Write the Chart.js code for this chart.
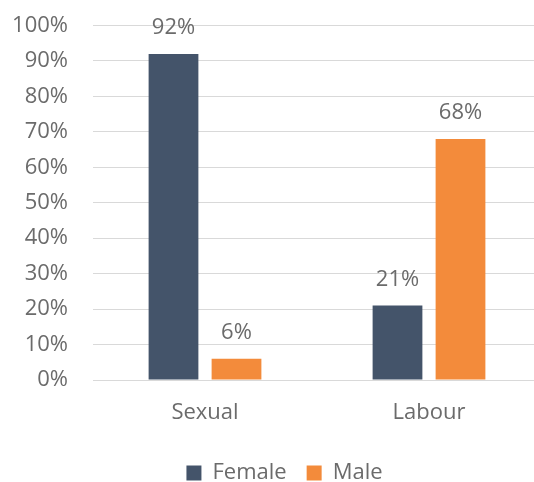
<!DOCTYPE html>
<html>
<head>
<meta charset="utf-8">
<script src="https://cdn.jsdelivr.net/npm/chart.js@4/dist/chart.umd.min.js"></script>
<style>
  html, body { margin: 0; padding: 0; overflow: hidden; background: #fff; }
  #wrap { position: absolute; left: 0; top: 0; width: 548px; height: 482px; }
</style>
</head>
<body>
<div id="wrap"><canvas id="c"></canvas></div>
<script>
const categories = ["Sexual", "Labour"];
const femaleValues = [92, 21];
const maleValues = [6, 68];
const seriesNames = ["Female", "Male"];
const yTicks = [0, 10, 20, 30, 40, 50, 60, 70, 80, 90, 100];

const FONT = "'Open Sans', 'Liberation Sans', sans-serif";
const TEXT = "#6b6b6b";

const valueLabels = {
  id: "valueLabels",
  afterDatasetsDraw(chart) {
    const ctx = chart.ctx;
    ctx.save();
    ctx.font = "22px " + FONT;
    ctx.fillStyle = TEXT;
    ctx.textAlign = "center";
    ctx.textBaseline = "bottom";
    chart.data.datasets.forEach((ds, i) => {
      chart.getDatasetMeta(i).data.forEach((bar, j) => {
        ctx.fillText(ds.data[j] + "%", bar.x, bar.y - 15);
      });
    });
    ctx.restore();
  }
};

const legendShift = {
  id: "legendShift",
  afterLayout(chart) {
    const lg = chart.legend;
    if (lg) { lg.left += 14; lg.right += 14; lg.top += 16; lg.bottom += 16; }
  }
};

new Chart(document.getElementById("c"), {
  type: "bar",
  data: {
    labels: categories,
    datasets: [
      { label: seriesNames[0], data: femaleValues, backgroundColor: "#44546A" },
      { label: seriesNames[1], data: maleValues, backgroundColor: "#F38B3B" }
    ]
  },
  options: {
    responsive: true,
    maintainAspectRatio: false,
    animation: false,
    layout: { padding: { top: 15, left: 0, right: 7, bottom: 4 } },
    datasets: { bar: { categoryPercentage: 0.5625, barPercentage: 0.79 } },
    scales: {
      x: {
        grid: { display: false, drawTicks: false },
        border: { display: false },
        ticks: { color: TEXT, font: { family: FONT, size: 22 }, padding: 20 },
        afterFit(s) { s.height = 46; }
      },
      y: {
        min: 0, max: 100,
        afterBuildTicks(s) { s.ticks = yTicks.map(v => ({ value: v })); },
        grid: { color: "#d9d9d9", lineWidth: 1, drawTicks: false },
        border: { display: false },
        ticks: { color: TEXT, font: { family: FONT, size: 22, lineHeight: 0.05 }, padding: 25, callback: v => v + "%" },
        afterFit(s) { s.width = 93; }
      }
    },
    plugins: {
      legend: {
        position: "bottom",
        labels: { color: TEXT, font: { family: FONT, size: 22 }, boxWidth: 15, boxHeight: 15, padding: 20 }
      },
      tooltip: { enabled: false }
    }
  },
  plugins: [valueLabels, legendShift]
});
</script>
</body>
</html>
